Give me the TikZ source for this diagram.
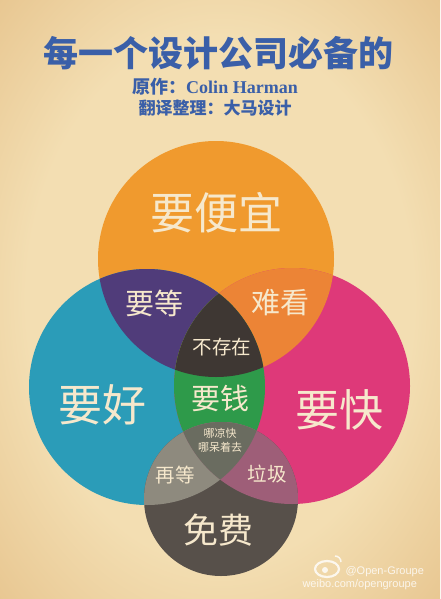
\documentclass[tikz,border=0pt]{standalone}
\usepackage{fontspec}
\usepackage{tikz}
\usepackage{xcolor}
\setmainfont{Liberation Serif}
\newfontfamily\cjk{Noto Sans CJK SC}
\newfontfamily\websans{Liberation Sans}
\usetikzlibrary{positioning}

\definecolor{paper}{HTML}{F3DEB2}
\definecolor{papermid}{HTML}{E3BC82}
\definecolor{paperedge}{HTML}{B97F46}
\definecolor{titleblue}{HTML}{3A5FA8}
\definecolor{cream}{HTML}{F6E8CC}
\definecolor{cOrange}{HTML}{F09A2E}
\definecolor{cBlue}{HTML}{2B9CB8}
\definecolor{cPink}{HTML}{DE3979}
\definecolor{cGray}{HTML}{57504A}
\definecolor{cPurple}{HTML}{503C7A}
\definecolor{cAmber}{HTML}{EC8436}
\definecolor{cCore}{HTML}{3E3733}
\definecolor{cGreen}{HTML}{2E9A4A}
\definecolor{cAsh}{HTML}{8E8A7E}
\definecolor{cMauve}{HTML}{9E5E78}
\definecolor{cSlate}{HTML}{6A6C60}

\pgfdeclareradialshading{parchment}{\pgfpoint{0bp}{0bp}}{%
  color(0bp)=(paper); color(22bp)=(paper); color(42bp)=(papermid); color(62bp)=(paperedge); color(72bp)=(paperedge)}

\newcommand{\rBig}{118pt}
\newcommand{\rSmall}{77pt}

\tikzset{
  huge label/.style={text=cream, font=\cjk\fontsize{44}{44}\selectfont},
  big label/.style={text=cream, font=\cjk\fontsize{35}{35}\selectfont},
  mid label/.style={text=cream, font=\cjk\fontsize{29}{29}\selectfont},
  small label/.style={text=cream, font=\cjk\fontsize{19.5}{20}\selectfont},
  tiny label/.style={text=cream, font=\cjk\fontsize{11}{14}\selectfont, align=center},
  mark text/.style={text=white, opacity=.8, font=\websans\fontsize{11}{11}\selectfont}
}

\begin{document}
\begin{tikzpicture}[x=1pt, y=-1pt]
    % Paper
    \useasboundingbox (0,0) rectangle (440,599);
    \shade[shading=parchment] (0,0) rectangle (440,599);

    % Heading
    \node[text=titleblue, font=\cjk\bfseries\fontsize{35}{35}\selectfont] (title) at (218,53) {每一个设计公司必备的};
    \node[text=titleblue, font=\bfseries\fontsize{18}{18}\selectfont] (author) at (215,87) {{\cjk 原作：}Colin Harman};
    \node[text=titleblue, font=\cjk\bfseries\fontsize{17}{17}\selectfont] (translator) at (215,108) {翻译整理：大马设计};

    % Circle centres
    \coordinate (cTop) at (216,259);
    \coordinate (cLeft) at (147,387);
    \coordinate (cRight) at (292,386);
    \coordinate (cBottom) at (221,499);

    % Circles
    \fill[cOrange] (cTop) circle[radius=\rBig];
    \fill[cBlue] (cLeft) circle[radius=\rBig];
    \fill[cPink] (cRight) circle[radius=\rBig];
    \fill[cGray] (cBottom) circle[radius=\rSmall];

    % Overlaps
    \begin{scope}
        \clip (cTop) circle[radius=\rBig];
        \fill[cPurple] (cLeft) circle[radius=\rBig];
        \fill[cAmber] (cRight) circle[radius=\rBig];
    \end{scope}
    \begin{scope}
        \clip (cLeft) circle[radius=\rBig];
        \clip (cRight) circle[radius=\rBig];
        \fill[cGreen] (cRight) circle[radius=\rBig];
        \clip (cTop) circle[radius=\rBig];
        \fill[cCore] (cRight) circle[radius=\rBig];
    \end{scope}
    \begin{scope}
        \clip (cBottom) circle[radius=\rSmall];
        \fill[cAsh] (cLeft) circle[radius=\rBig];
        \fill[cMauve] (cRight) circle[radius=\rBig];
        \clip (cLeft) circle[radius=\rBig];
        \fill[cSlate] (cRight) circle[radius=\rBig];
    \end{scope}

    % Labels
    \node[huge label] (cheap) at (216,213) {要便宜};
    \node[huge label] (good) at (102,405) {要好};
    \node[huge label] (fast) at (339,410) {要快};
    \node[big label] (free) at (218,530) {免费};
    \node[mid label] (wait) at (154,303) {要等};
    \node[mid label] (ugly) at (280,303) {难看};
    \node[mid label] (money) at (220,398) {要钱};
    \node[small label] (none) at (222,347) {不存在};
    \node[small label] (later) at (175,475) {再等};
    \node[small label] (junk) at (267,474) {垃圾};
    \node[tiny label] (away) at (220,440) {哪凉快\\哪呆着去};

    % Watermark
    \draw[white, opacity=.8, line width=2.2pt] (327,569) ellipse (12pt and 8pt);
    \fill[white, opacity=.8] (325,570) circle[radius=3pt];
    \draw[white, opacity=.8, line width=1.5pt] (335,556) arc (90:0:6pt);
    \node[mark text, anchor=west] (handle) at (342,572) {@Open-Groupe};
    \node[mark text, anchor=west] (site) at (299,585) {weibo.com/opengroupe};
\end{tikzpicture}
\end{document}
